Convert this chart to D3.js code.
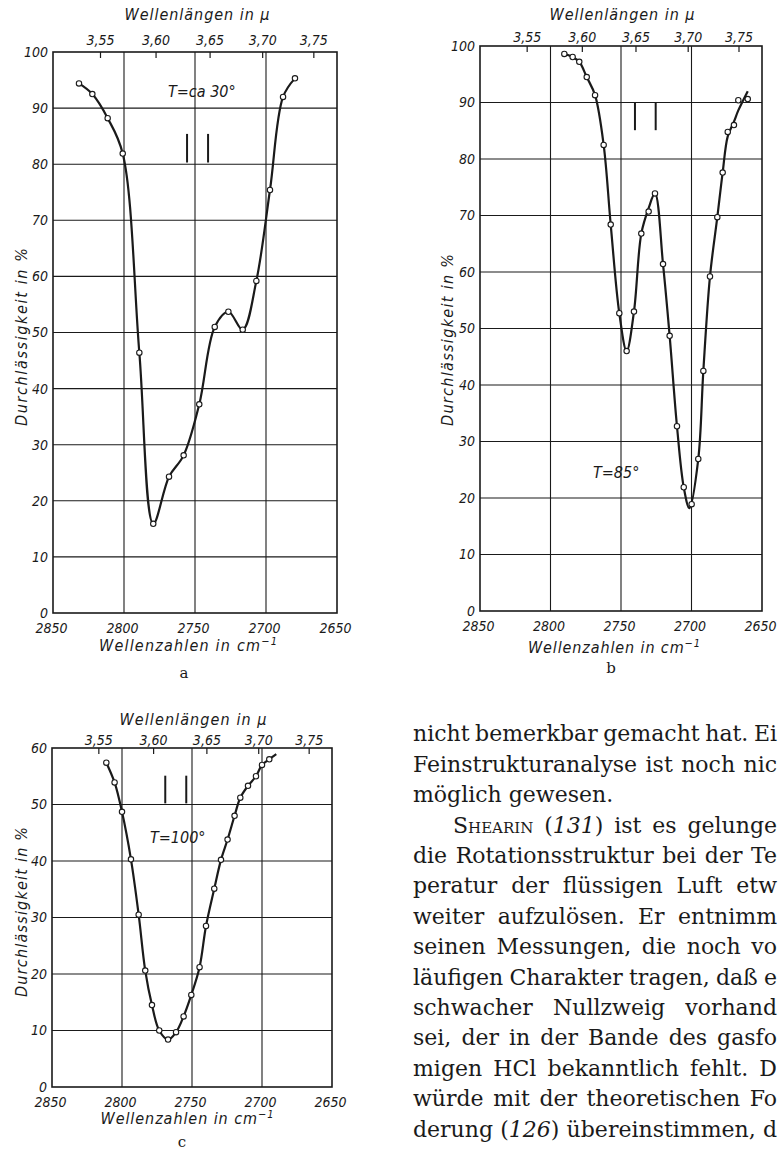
<!DOCTYPE html>
<html>
<head>
<meta charset="utf-8">
<script src="https://cdnjs.cloudflare.com/ajax/libs/d3/7.8.5/d3.min.js"></script>
<style>
  html, body { margin: 0; padding: 0; background: #fff; }
  svg { display: block; }
  .lab { font-family: "DejaVu Sans Condensed", "DejaVu Sans", sans-serif; font-style: italic; fill: #1a1a1a; }
  .body { font-family: "DejaVu Serif", serif; font-size: 22px; fill: #1a1a1a; }
</style>
</head>
<body>
<svg width="780" height="1150"></svg>
<script>
// wavenumbers in cm^-1 (x), transmission in % (y)
var nuTicks = [2850, 2800, 2750, 2700, 2650];
var lambdaTicks = [3.55, 3.60, 3.65, 3.70, 3.75];
var lambdaLabels = ['3,55', '3,60', '3,65', '3,70', '3,75'];

// a : T = ca 30°
var nuA = [2831.7, 2822.3, 2811.5, 2800.9, 2789.2, 2779.4, 2768.3, 2758.0, 2747.0, 2736.1, 2726.5, 2716.4, 2706.8, 2697.2, 2688.0, 2679.6];
var tA = [94.4, 92.5, 88.2, 81.9, 46.4, 15.9, 24.3, 28.1, 37.2, 51.0, 53.7, 50.5, 59.2, 75.4, 92.0, 95.3];
var stickNuA = [2755.6, 2740.8];
var stickTA = [80.3, 85.4];

// b : T = 85°
var nuB = [2790.2, 2784.3, 2779.6, 2774.3, 2768.4, 2762.3, 2757.3, 2751.2, 2746.0, 2740.8, 2735.6, 2730.4, 2725.9, 2720.2, 2715.5, 2710.3, 2705.5, 2699.9, 2695.2, 2691.6, 2686.9, 2681.7, 2677.9, 2674.3, 2669.9, 2666.8, 2660.1];
var tB = [98.6, 98.05, 97.2, 94.5, 91.3, 82.5, 68.4, 52.7, 46.0, 53.0, 66.8, 70.7, 73.9, 61.4, 48.7, 32.7, 21.9, 18.9, 26.9, 42.5, 59.2, 69.7, 77.6, 84.8, 86.0, 90.4, 90.6];
// drawn curve (does not hit every point at the right end)
var curveNuB = [2790.2, 2784.3, 2779.6, 2774.3, 2768.4, 2762.3, 2757.3, 2751.2, 2746.0, 2740.8, 2735.6, 2730.4, 2725.9, 2720.2, 2715.5, 2710.3, 2705.5, 2701.5, 2695.2, 2691.6, 2686.9, 2681.7, 2677.9, 2674.3, 2669.9, 2666.8, 2660.1];
var curveTB = [98.6, 98.05, 97.2, 94.5, 91.3, 82.5, 68.4, 52.7, 46.0, 53.0, 66.8, 71.3, 73.9, 61.4, 48.7, 32.7, 21.9, 18.2, 26.9, 42.5, 59.2, 69.7, 77.6, 84.0, 86.6, 88.6, 92.0];
var stickNuB = [2740.1, 2725.4];
var stickTB = [85.1, 90];

// c : T = 100°
var nuC = [2811.2, 2805.3, 2800.0, 2793.6, 2788.1, 2783.4, 2778.6, 2773.4, 2767.1, 2761.4, 2756.0, 2750.5, 2744.6, 2740.0, 2734.1, 2729.3, 2724.6, 2719.6, 2715.5, 2710.0, 2704.3, 2700.0, 2694.8];
var tC = [57.4, 53.9, 48.7, 40.3, 30.5, 20.6, 14.5, 10.0, 8.4, 9.7, 12.5, 16.3, 21.2, 28.5, 35.1, 40.2, 43.8, 48.0, 51.2, 53.3, 55.0, 57.0, 58.0];
var curveNuC = nuC.concat([2689.8]);
var curveTC = tC.concat([58.9]);
var stickNuC = [2769.1, 2754.1];
var stickTC = [50.2, 55.1];

var tempLabels = ['T=ca 30°', 'T=85°', 'T=100°'];
var panelLetters = ['a', 'b', 'c'];

// text column next to c
var textLines = [
    [['nicht bemerkbar gemacht hat. Ei']],
    [['Feinstrukturanalyse ist noch nic']],
    [['möglich gewesen.']],
    [['Shearin', 'sc'], [' ('], ['131', 'it'], [') ist es gelunge']],
    [['die Rotationsstruktur bei der Te']],
    [['peratur der flüssigen Luft etw']],
    [['weiter aufzulösen. Er entnimm']],
    [['seinen Messungen, die noch vo']],
    [['läufigen Charakter tragen, daß e']],
    [['schwacher Nullzweig vorhand']],
    [['sei, der in der Bande des gasfo']],
    [['migen HCl bekanntlich fehlt. D']],
    [['würde mit der theoretischen Fo']],
    [['derung ('], ['126', 'it'], [') übereinstimmen, d']]
];

var svg = d3.select('svg');
var ink = '#1a1a1a';

var panels = [
    { nu: nuA, t: tA, cNu: nuA, cT: tA, sNu: stickNuA, sT: stickTA, yMax: 100,
      left: 53, right: 337, top: 52, bottom: 613,
      titleY: 20, titleX: 197, titleW: 145, topPad: 7,
      xTitleX: 188, xTitleY: 651, xTitleW: 178, letterX: 184, letterY: 678,
      yTitleX: 21, yTitleY: 337, yTitleW: 178, tX: 168, tY: 97 },
    { nu: nuB, t: tB, cNu: curveNuB, cT: curveTB, sNu: stickNuB, sT: stickTB, yMax: 100,
      left: 480, right: 762, top: 46, bottom: 611,
      titleY: 20, titleX: 622, titleW: 145, topPad: 4,
      xTitleX: 614, xTitleY: 653, xTitleW: 172, letterX: 611, letterY: 673,
      yTitleX: 447, yTitleY: 340, yTitleW: 172, tX: 593, tY: 478 },
    { nu: nuC, t: tC, cNu: curveNuC, cT: curveTC, sNu: stickNuC, sT: stickTC, yMax: 60,
      left: 52, right: 332, top: 748, bottom: 1087,
      titleY: 725, titleX: 193, titleW: 147, topPad: 3,
      xTitleX: 187, xTitleY: 1124, xTitleW: 173, letterX: 182, letterY: 1147,
      yTitleX: 21, yTitleY: 912, yTitleW: 170, tX: 150, tY: 843 }
];

const drawPanel = (p, i) => {
    var x = d3.scaleLinear().domain([2850, 2650]).range([p.left, p.right]);
    var y = d3.scaleLinear().domain([0, p.yMax]).range([p.bottom, p.top]);
    var g = svg.append('g');

    // grid
    g.selectAll('.hg').data(d3.range(10, p.yMax, 10)).enter().append('line')
        .attr('x1', p.left).attr('x2', p.right)
        .attr('y1', d => y(d)).attr('y2', d => y(d))
        .attr('stroke', ink).attr('stroke-width', 1.1);
    g.selectAll('.vg').data(nuTicks.slice(1, -1)).enter().append('line')
        .attr('x1', d => x(d)).attr('x2', d => x(d))
        .attr('y1', p.top).attr('y2', p.bottom)
        .attr('stroke', ink).attr('stroke-width', 1.1);
    g.append('rect')
        .attr('x', p.left).attr('y', p.top)
        .attr('width', p.right - p.left).attr('height', p.bottom - p.top)
        .attr('fill', 'none').attr('stroke', ink).attr('stroke-width', 1.6);

    // axes
    var yAxis = d3.axisLeft(y).tickValues(d3.range(0, p.yMax + 1, 10)).tickSize(0).tickPadding(5);
    var ya = g.append('g').attr('transform', 'translate(' + [p.left, 0] + ')').call(yAxis);

    var xAxis = d3.axisBottom(x).tickValues(nuTicks).tickFormat(d3.format('d')).tickSize(0).tickPadding(10);
    var xa = g.append('g').attr('transform', 'translate(' + [0, p.bottom] + ')').call(xAxis);
    xa.selectAll('text').attr('dx', -2);

    // wavelength scale on top (reciprocal)
    var topAxis = d3.axisTop(x)
        .tickValues(lambdaTicks.map(l => 1e4 / l))
        .tickFormat((d, k) => lambdaLabels[k])
        .tickSizeInner(-6).tickSizeOuter(0).tickPadding(p.topPad);
    var ta = g.append('g').attr('transform', 'translate(' + [0, p.top] + ')').call(topAxis);
    ta.selectAll('line').attr('stroke', ink).attr('stroke-width', 1.2);

    [ya, xa, ta].forEach(a => {
        a.select('.domain').remove();
        a.selectAll('text').attr('class', 'lab').style('font-size', '14px');
    });

    // curve
    var line = d3.line()
        .x(d => x(d[0])).y(d => y(d[1]))
        .curve(d3.curveCatmullRom.alpha(0.5));
    g.append('path')
        .datum(p.cNu.map((n, k) => [n, p.cT[k]]))
        .attr('d', line)
        .attr('fill', 'none').attr('stroke', ink).attr('stroke-width', 2.2);

    // sticks
    g.selectAll('.st').data(p.sNu).enter().append('line')
        .attr('x1', d => x(d)).attr('x2', d => x(d))
        .attr('y1', y(p.sT[0])).attr('y2', y(p.sT[1]))
        .attr('stroke', ink).attr('stroke-width', 2);

    // measured points
    g.selectAll('.pt').data(p.nu.map((n, k) => [n, p.t[k]])).enter().append('circle')
        .attr('cx', d => x(d[0])).attr('cy', d => y(d[1]))
        .attr('r', 2.7)
        .attr('fill', '#fff').attr('stroke', ink).attr('stroke-width', 1.1);

    // titles
    g.append('text').attr('class', 'lab')
        .attr('x', p.titleX).attr('y', p.titleY)
        .attr('text-anchor', 'middle').style('font-size', '16px')
        .attr('textLength', p.titleW).attr('lengthAdjust', 'spacing')
        .text('Wellenlängen in μ');

    var xt = g.append('text').attr('class', 'lab')
        .attr('x', p.xTitleX - p.xTitleW / 2).attr('y', p.xTitleY)
        .style('font-size', '16px')
        .attr('textLength', p.xTitleW).attr('lengthAdjust', 'spacing');
    xt.append('tspan').text('Wellenzahlen in cm');
    xt.append('tspan').attr('dy', -6).style('font-size', '11px').text('−1');

    g.append('text').attr('class', 'lab')
        .attr('transform', 'translate(' + [p.yTitleX, p.yTitleY] + ') rotate(-90)')
        .attr('dy', '0.35em')
        .attr('text-anchor', 'middle').style('font-size', '16px')
        .attr('textLength', p.yTitleW).attr('lengthAdjust', 'spacing')
        .text('Durchlässigkeit in %');

    g.append('text').attr('class', 'lab')
        .attr('x', p.tX).attr('y', p.tY).style('font-size', '16px')
        .text(tempLabels[i]);

    g.append('text')
        .attr('x', p.letterX).attr('y', p.letterY)
        .attr('text-anchor', 'middle')
        .attr('font-family', 'DejaVu Serif, serif').attr('font-size', 15)
        .attr('fill', ink)
        .text(panelLetters[i]);
};

panels.forEach(drawPanel);

// body text, justified up to the page edge
var textLeft = 413;
var textIndent = 453;
var textRight = 777;
var baseY = 741.3;
var lineStep = 30.4;

textLines.forEach((segs, k) => {
    var x0 = k === 3 ? textIndent : textLeft;
    var t = svg.append('text').attr('class', 'body')
        .attr('x', x0).attr('y', baseY + k * lineStep);
    segs.forEach(s => {
        var ts = t.append('tspan').text(s[0]);
        if (s[1] === 'sc') ts.style('font-variant', 'small-caps');
        if (s[1] === 'it') ts.style('font-style', 'italic');
    });
    if (k !== 2) {
        var full = segs.map(s => s[0]).join('');
        var spaces = full.split(' ').length - 1;
        var w = t.node().getComputedTextLength();
        t.style('word-spacing', ((textRight - x0 - w) / spaces) + 'px');
    }
});
</script>
</body>
</html>
